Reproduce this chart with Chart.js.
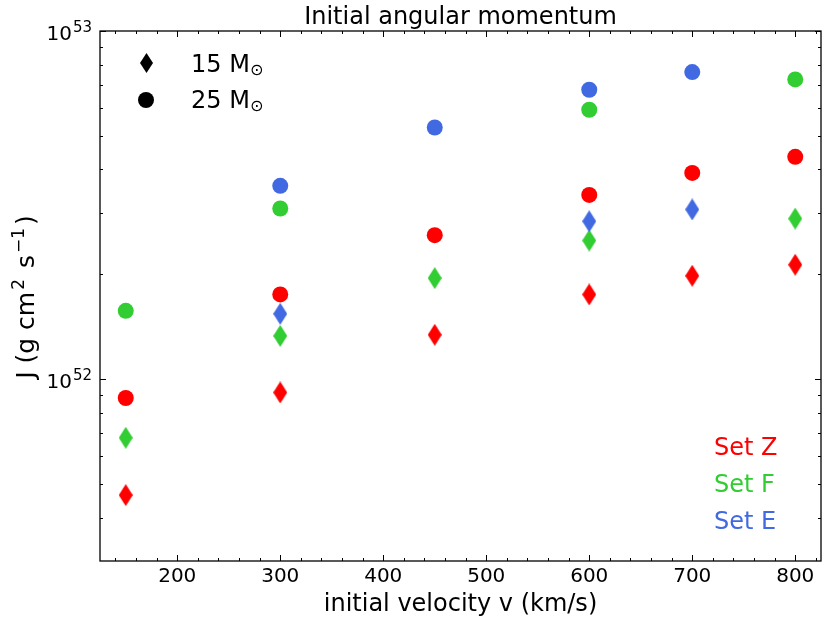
<!DOCTYPE html>
<html>
<head>
<meta charset="utf-8">
<script src="https://cdn.jsdelivr.net/npm/chart.js@4/dist/chart.umd.min.js"></script>
<style>
  body { margin: 0; background: #fff; }
  canvas { display: block; }
</style>
</head>
<body>
<canvas id="chart" width="830" height="623"></canvas>
<script>
// values (J in g cm^2 s^-1)
const velZ = [150, 300, 450, 600, 700, 800];
const setZ15 = [4.64e51, 9.15e51, 1.34e52, 1.75e52, 1.98e52, 2.13e52];
const setZ25 = [8.82e51, 1.75e52, 2.59e52, 3.38e52, 3.91e52, 4.35e52];

const velF15 = [150, 300, 450, 600, 800];
const setF15 = [6.78e51, 1.33e52, 1.95e52, 2.5e52, 2.89e52];
const velF25 = [150, 300, 600, 800];
const setF25 = [1.57e52, 3.09e52, 5.94e52, 7.26e52];

const velE15 = [300, 600, 700];
const setE15 = [1.54e52, 2.84e52, 3.07e52];
const velE25 = [300, 450, 600, 700];
const setE25 = [3.59e52, 5.28e52, 6.78e52, 7.62e52];

const xMajorTicks = [200, 300, 400, 500, 600, 700, 800];
const xMinorTicks = [140, 160, 180, 220, 240, 260, 280, 320, 340, 360, 380, 420, 440, 460, 480,
  520, 540, 560, 580, 620, 640, 660, 680, 720, 740, 760, 780, 820];
const yMajorTicks = [1e52, 1e53];
const yMajorExp = ["52", "53"];
const yMinorTicks = [4e51, 5e51, 6e51, 7e51, 8e51, 9e51, 2e52, 3e52, 4e52, 5e52, 6e52, 7e52, 8e52, 9e52];

const setLabels = ["Set Z", "Set F", "Set E"];
const red = "#ff0000", green = "#32cd32", blue = "#4169e1";
const FONT = "'DejaVu Sans', sans-serif";

const diamond = (color, w, h) => {
  const c = document.createElement("canvas");
  c.width = w;
  c.height = h;
  const g = c.getContext("2d");
  g.fillStyle = color;
  g.beginPath();
  g.moveTo(w / 2, 0);
  g.lineTo(w, h / 2);
  g.lineTo(w / 2, h);
  g.lineTo(0, h / 2);
  g.closePath();
  g.fill();
  return c;
};

const pts = (xs, ys) => xs.map((x, i) => ({ x, y: ys[i] }));

const diamondSet = (xs, ys, color) => ({
  data: pts(xs, ys),
  pointStyle: diamond(color, 14, 22),
  pointRadius: 8,
  backgroundColor: color,
  borderWidth: 0,
});
const circleSet = (xs, ys, color) => ({
  data: pts(xs, ys),
  pointStyle: "circle",
  pointRadius: 8,
  backgroundColor: color,
  borderColor: color,
  borderWidth: 0,
});

const supText = (ctx, parts, x, y, align) => {
  // parts: [text, size, rise, extra gap after]
  let total = 0;
  parts.forEach((p) => {
    ctx.font = p[1] + "px " + FONT;
    total += ctx.measureText(p[0]).width + (p[3] || 0);
  });
  let cx = align === "right" ? x - total : align === "center" ? x - total / 2 : x;
  ctx.textAlign = "left";
  ctx.textBaseline = "alphabetic";
  parts.forEach((p) => {
    ctx.font = p[1] + "px " + FONT;
    ctx.fillText(p[0], cx, y - p[2]);
    cx += ctx.measureText(p[0]).width + (p[3] || 0);
  });
};

const decorations = {
  id: "decorations",
  afterDraw(chart) {
    const ctx = chart.ctx;
    const area = chart.chartArea;
    const xs = chart.scales.x;
    const ys = chart.scales.y;
    ctx.save();
    ctx.strokeStyle = "#000";
    ctx.fillStyle = "#000";

    // ticks, inward on all sides
    ctx.lineWidth = 1;
    const tickX = (v, len) => {
      const px = Math.round(xs.getPixelForValue(v)) + 0.5;
      ctx.beginPath();
      ctx.moveTo(px, area.bottom);
      ctx.lineTo(px, area.bottom - len);
      ctx.moveTo(px, area.top);
      ctx.lineTo(px, area.top + len);
      ctx.stroke();
    };
    const tickY = (v, len) => {
      const py = Math.round(ys.getPixelForValue(v)) + 0.5;
      ctx.beginPath();
      ctx.moveTo(area.left, py);
      ctx.lineTo(area.left + len, py);
      ctx.moveTo(area.right, py);
      ctx.lineTo(area.right - len, py);
      ctx.stroke();
    };
    xMajorTicks.forEach((v) => tickX(v, 6));
    xMinorTicks.forEach((v) => tickX(v, 3));
    yMajorTicks.forEach((v) => tickY(v, 6));
    yMinorTicks.forEach((v) => tickY(v, 3));

    // frame
    ctx.lineWidth = 1.3;
    ctx.strokeRect(area.left, area.top, area.right - area.left, area.bottom - area.top);

    // x tick labels
    ctx.font = "20px " + FONT;
    ctx.textAlign = "center";
    ctx.textBaseline = "alphabetic";
    xMajorTicks.forEach((v) => {
      ctx.fillText(String(v), xs.getPixelForValue(v), 582);
    });

    // y tick labels with exponents
    yMajorTicks.forEach((v, i) => {
      const py = ys.getPixelForValue(v);
      supText(ctx, [["10", 20, 0, 1], [yMajorExp[i], 15, 8]], 92, py + 8.5, "right");
    });

    // title and axis titles
    ctx.font = "24px " + FONT;
    ctx.textAlign = "center";
    ctx.fillText("Initial angular momentum", (area.left + area.right) / 2, 24);
    ctx.fillText("initial velocity v (km/s)", (area.left + area.right) / 2, 611);

    ctx.save();
    ctx.translate(34, 297);
    ctx.rotate(-Math.PI / 2);
    supText(ctx, [["J (g cm", 25, 0, 2], ["2", 17, 10, 3], [" s", 25, 0, 2], ["\u22121", 17, 10, 3], [")", 25, 0]], 0, 0, "center");
    ctx.restore();

    // marker legend
    ctx.drawImage(diamond("#000", 13, 20), 140, 53);
    ctx.beginPath();
    ctx.arc(146, 100, 8, 0, Math.PI * 2);
    ctx.fill();
    supText(ctx, [["15 M", 24, 0], ["\u2299", 16, -3]], 191, 72, "left");
    supText(ctx, [["25 M", 24, 0], ["\u2299", 16, -3]], 191, 108, "left");

    // set labels
    const setColors = [red, green, blue];
    const setBase = [455, 492, 529];
    ctx.font = "24px " + FONT;
    ctx.textAlign = "left";
    setLabels.forEach((t, i) => {
      ctx.fillStyle = setColors[i];
      ctx.fillText(t, 714, setBase[i]);
    });
    ctx.restore();
  },
};

new Chart(document.getElementById("chart").getContext("2d"), {
  type: "scatter",
  data: {
    datasets: [
      circleSet(velF25, setF25, green),
      circleSet(velE25, setE25, blue),
      circleSet(velZ, setZ25, red),
      diamondSet(velE15, setE15, blue),
      diamondSet(velF15, setF15, green),
      diamondSet(velZ, setZ15, red),
    ],
  },
  options: {
    responsive: false,
    animation: false,
    devicePixelRatio: 1,
    layout: { padding: { left: 100, top: 31, right: 9, bottom: 62 } },
    scales: {
      x: { type: "linear", min: 125, max: 825, display: false },
      y: { type: "logarithmic", min: 3e51, max: 1e53, display: false },
    },
    plugins: {
      legend: { display: false },
      tooltip: { enabled: false },
    },
  },
  plugins: [decorations],
});
</script>
</body>
</html>
